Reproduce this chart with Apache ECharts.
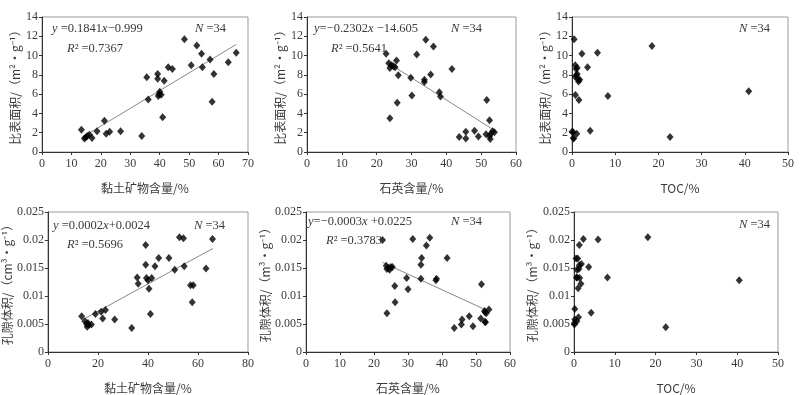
<!DOCTYPE html>
<html>
<head>
<meta charset="utf-8">
<script src="https://cdn.jsdelivr.net/npm/echarts@6/dist/echarts.min.js"></script>
<style>
  html, body { margin: 0; padding: 0; background: #fff; }
  #chart { width: 807px; height: 395px; }
</style>
</head>
<body>
<div id="chart"></div>
<script>
// 比表面积 vs 黏土矿物 / 石英 / TOC
const claySSA = [
  [13.4, 2.3], [14.4, 1.4], [14.8, 1.5], [15.4, 1.65], [16.1, 1.8], [17.0, 1.45], [18.7, 2.15],
  [21.2, 3.25], [21.8, 1.9], [23.0, 2.1], [26.7, 2.15], [33.9, 1.65], [35.6, 7.75], [36.1, 5.45],
  [39.3, 8.1], [39.3, 7.6], [39.5, 5.8], [40.0, 6.25], [40.5, 5.95], [41.0, 3.6], [41.5, 7.4],
  [42.9, 8.8], [44.3, 8.6], [48.4, 11.7], [50.7, 9.0], [52.6, 11.05], [54.2, 10.2], [54.5, 8.8],
  [57.1, 9.6], [57.8, 5.2], [58.4, 8.1], [63.3, 9.3], [66.0, 10.3], [39.8, 6.0]
]
const quartzSSA = [
  [22.7, 10.2], [23.5, 9.2], [23.8, 8.7], [24.8, 8.9], [25.3, 8.8], [25.7, 9.5], [26.2, 7.95],
  [25.9, 5.1], [23.8, 3.5], [24.3, 9.0], [29.8, 7.7], [30.1, 5.85], [31.5, 10.1], [33.7, 7.5],
  [33.7, 7.25], [34.1, 11.65], [35.5, 8.05], [36.3, 10.95], [38.0, 6.2], [38.3, 5.75], [41.6, 8.6],
  [43.7, 1.55], [45.6, 2.1], [45.6, 1.4], [48.1, 2.2], [49.2, 1.6], [51.6, 5.4], [51.4, 1.85],
  [52.4, 3.3], [52.4, 1.65], [52.6, 1.35], [53.3, 2.15], [53.8, 2.05], [52.8, 1.9]
]
const tocSSA = [
  [0.5, 11.7], [2.3, 10.2], [5.9, 10.3], [18.5, 11.0], [0.75, 9.0], [1.2, 8.75], [0.95, 8.6],
  [1.0, 7.95], [0.75, 7.8], [1.4, 7.55], [1.5, 7.3], [1.8, 7.5], [3.6, 8.8], [0.8, 5.9],
  [1.6, 5.4], [8.3, 5.8], [40.9, 6.3], [0.0, 2.1], [0.3, 1.45], [0.4, 1.4], [1.1, 1.9],
  [4.2, 2.2], [22.7, 1.55], [1.2, 8.1], [0.3, 2.05]
]

// 孔隙体积 vs 黏土矿物 / 石英 / TOC
const clayPV = [
  [13.5, 0.0064], [14.8, 0.0055], [15.5, 0.005], [15.7, 0.0045], [16.4, 0.0048], [17.4, 0.0049],
  [19.0, 0.0068], [21.3, 0.0072], [21.9, 0.006], [23.0, 0.0075], [26.7, 0.0058], [33.5, 0.0043],
  [41.0, 0.0068], [35.7, 0.0133], [36.1, 0.0122], [39.1, 0.0191], [39.1, 0.0156], [39.4, 0.0132],
  [40.0, 0.0128], [40.4, 0.0113], [41.5, 0.0132], [42.8, 0.0153], [44.3, 0.0168], [48.4, 0.0168],
  [50.7, 0.0147], [52.6, 0.0205], [54.2, 0.0203], [54.5, 0.0153], [57.0, 0.0119], [58.1, 0.0119],
  [57.7, 0.0089], [63.2, 0.0149], [65.8, 0.0202], [16.0, 0.0052]
]
const quartzPV = [
  [22.5, 0.020], [23.6, 0.0154], [23.8, 0.0148], [24.6, 0.0147], [24.9, 0.0152], [25.4, 0.0152],
  [26.1, 0.0118], [26.2, 0.0089], [23.8, 0.0069], [29.6, 0.0132], [30.0, 0.0112], [31.4, 0.0202],
  [33.8, 0.0156], [34.0, 0.0168], [33.8, 0.0131], [35.4, 0.019], [36.4, 0.0204], [38.2, 0.0128],
  [38.4, 0.0131], [41.5, 0.0168], [43.6, 0.0043], [45.7, 0.0049], [45.9, 0.0058], [48.0, 0.0064],
  [49.1, 0.0046], [51.4, 0.006], [51.6, 0.0121], [52.6, 0.0054], [52.8, 0.0053], [52.7, 0.0071],
  [53.0, 0.0069], [53.8, 0.0076], [24.2, 0.015], [52.5, 0.0073]
]
const tocPV = [
  [2.3, 0.0202], [5.9, 0.0201], [18.1, 0.0205], [1.3, 0.0191], [0.5, 0.0167], [0.9, 0.0167],
  [0.7, 0.0147], [1.3, 0.0155], [1.8, 0.0157], [3.6, 0.0152], [0.8, 0.0133], [1.4, 0.0132],
  [1.7, 0.0122], [1.0, 0.0114], [8.2, 0.0133], [0.2, 0.0077], [4.2, 0.007], [0.2, 0.0058],
  [0.7, 0.0055], [1.1, 0.0062], [0.1, 0.0049], [0.1, 0.0052], [40.5, 0.0128], [22.5, 0.0044],
  [1.2, 0.0148], [0.6, 0.0133]
]

// 趋势线端点
const trendClaySSA = [[14, 1.58], [66, 11.15]]
const trendQuartzSSA = [[22.8, 9.35], [53.3, 2.35]]
const trendClayPV = [[13.6, 0.0057], [66, 0.0185]]
const trendQuartzPV = [[22.5, 0.016], [53.3, 0.0074]]

const xNames = ['黏土矿物含量/%', '石英含量/%', 'TOC/%', '黏土矿物含量/%', '石英含量/%', 'TOC/%']
const yNames = [
  '比表面积/（m²·g⁻¹）', '比表面积/（m²·g⁻¹）', '比表面积/（m²·g⁻¹）',
  '孔隙体积/（cm³·g⁻¹）', '孔隙体积/（m³·g⁻¹）', '孔隙体积/（m³·g⁻¹）'
]
const xMax = [70, 60, 50, 80, 60, 50]
const xStep = [10, 10, 10, 20, 10, 10]
const yMax = [14, 14, 14, 0.025, 0.025, 0.025]
const yStep = [2, 2, 2, 0.005, 0.005, 0.005]

const panels = [
  { data: claySSA, trend: trendClaySSA },
  { data: quartzSSA, trend: trendQuartzSSA },
  { data: tocSSA, trend: null },
  { data: clayPV, trend: trendClayPV },
  { data: quartzPV, trend: trendQuartzPV },
  { data: tocPV, trend: null }
]

const grids = [
  { left: 42, top: 17, width: 206, height: 135 },
  { left: 307, top: 17, width: 209, height: 135 },
  { left: 572, top: 17, width: 216, height: 135 },
  { left: 42, top: 212, width: 206, height: 141 },
  { left: 306, top: 212, width: 204, height: 141 },
  { left: 574, top: 212, width: 204, height: 140 }
]
const yNameGap = [21, 21, 21, 34, 33, 36]

const serif = '"Liberation Serif", "DejaVu Serif", "Noto Sans CJK SC", serif'
const cjk = '"Noto Sans CJK SC", "Liberation Serif", sans-serif'
const textColor = '#3a3a3a'

const chart = echarts.init(document.getElementById('chart'))

const option = {
  backgroundColor: '#fff',
  animation: false,
  grid: grids.map(g => ({ ...g, show: true, borderColor: '#999', borderWidth: 1, backgroundColor: 'transparent' })),
  xAxis: panels.map((p, i) => ({
    gridIndex: i,
    type: 'value',
    min: 0,
    max: xMax[i],
    interval: xStep[i],
    name: xNames[i],
    nameLocation: 'middle',
    nameGap: 30,
    nameTextStyle: { fontFamily: cjk, fontSize: 12, color: textColor },
    axisLine: { onZero: false, lineStyle: { color: '#333', width: 1 } },
    axisTick: { show: true, length: 3, lineStyle: { color: '#333' } },
    axisLabel: { fontFamily: serif, fontSize: 12, color: textColor, margin: 6 },
    splitLine: { show: false }
  })),
  yAxis: panels.map((p, i) => ({
    gridIndex: i,
    type: 'value',
    min: 0,
    max: yMax[i],
    interval: yStep[i],
    name: yNames[i],
    nameLocation: 'middle',
    nameGap: yNameGap[i],
    nameRotate: 90,
    nameTextStyle: { fontFamily: cjk, fontSize: 12, color: textColor },
    axisLine: { onZero: false, lineStyle: { color: '#333', width: 1 } },
    axisTick: { show: true, length: 3, lineStyle: { color: '#333' } },
    axisLabel: { fontFamily: serif, fontSize: 12, color: textColor, margin: 4 },
    splitLine: { show: false }
  })),
  series: []
}

panels.forEach((p, i) => {
  if (p.trend) {
    option.series.push({
      type: 'line',
      xAxisIndex: i,
      yAxisIndex: i,
      data: p.trend,
      symbol: 'none',
      lineStyle: { color: '#888', width: 1 },
      silent: true,
      z: 2
    })
  }
  option.series.push({
    type: 'scatter',
    xAxisIndex: i,
    yAxisIndex: i,
    data: p.data,
    symbol: 'diamond',
    symbolSize: [7, 8],
    itemStyle: { color: '#000' },
    z: 3
  })
})

const rich = {
  i: { fontFamily: serif, fontStyle: 'italic', fontSize: 12.5, fill: textColor, color: textColor },
  n: { fontFamily: serif, fontSize: 12.5, fill: textColor, color: textColor }
}
const label = (x, y, text) => ({
  type: 'text',
  x, y,
  style: { text, rich, font: '12.5px "Liberation Serif", serif', fill: textColor },
  z: 10
})

option.graphic = [
  label(52, 22, '{i|y}{n| =0.1841}{i|x}{n|−0.999}'),
  label(67, 42, '{i|R}{n|² =0.7367}'),
  label(195, 22, '{i|N}{n| =34}'),
  label(314, 22, '{i|y}{n|=−0.2302}{i|x}{n| −14.605}'),
  label(331, 42, '{i|R}{n|² =0.5641}'),
  label(451, 22, '{i|N}{n| =34}'),
  label(739, 22, '{i|N}{n| =34}'),
  label(53, 219, '{i|y}{n| =0.0002}{i|x}{n|+0.0024}'),
  label(67, 238, '{i|R}{n|² =0.5696}'),
  label(194, 219, '{i|N}{n| =34}'),
  label(308, 215, '{i|y}{n|=−0.0003}{i|x}{n| +0.0225}'),
  label(326, 234, '{i|R}{n|² =0.3783}'),
  label(451, 215, '{i|N}{n| =34}'),
  label(739, 218, '{i|N}{n| =34}')
]

chart.setOption(option)
</script>
</body>
</html>
